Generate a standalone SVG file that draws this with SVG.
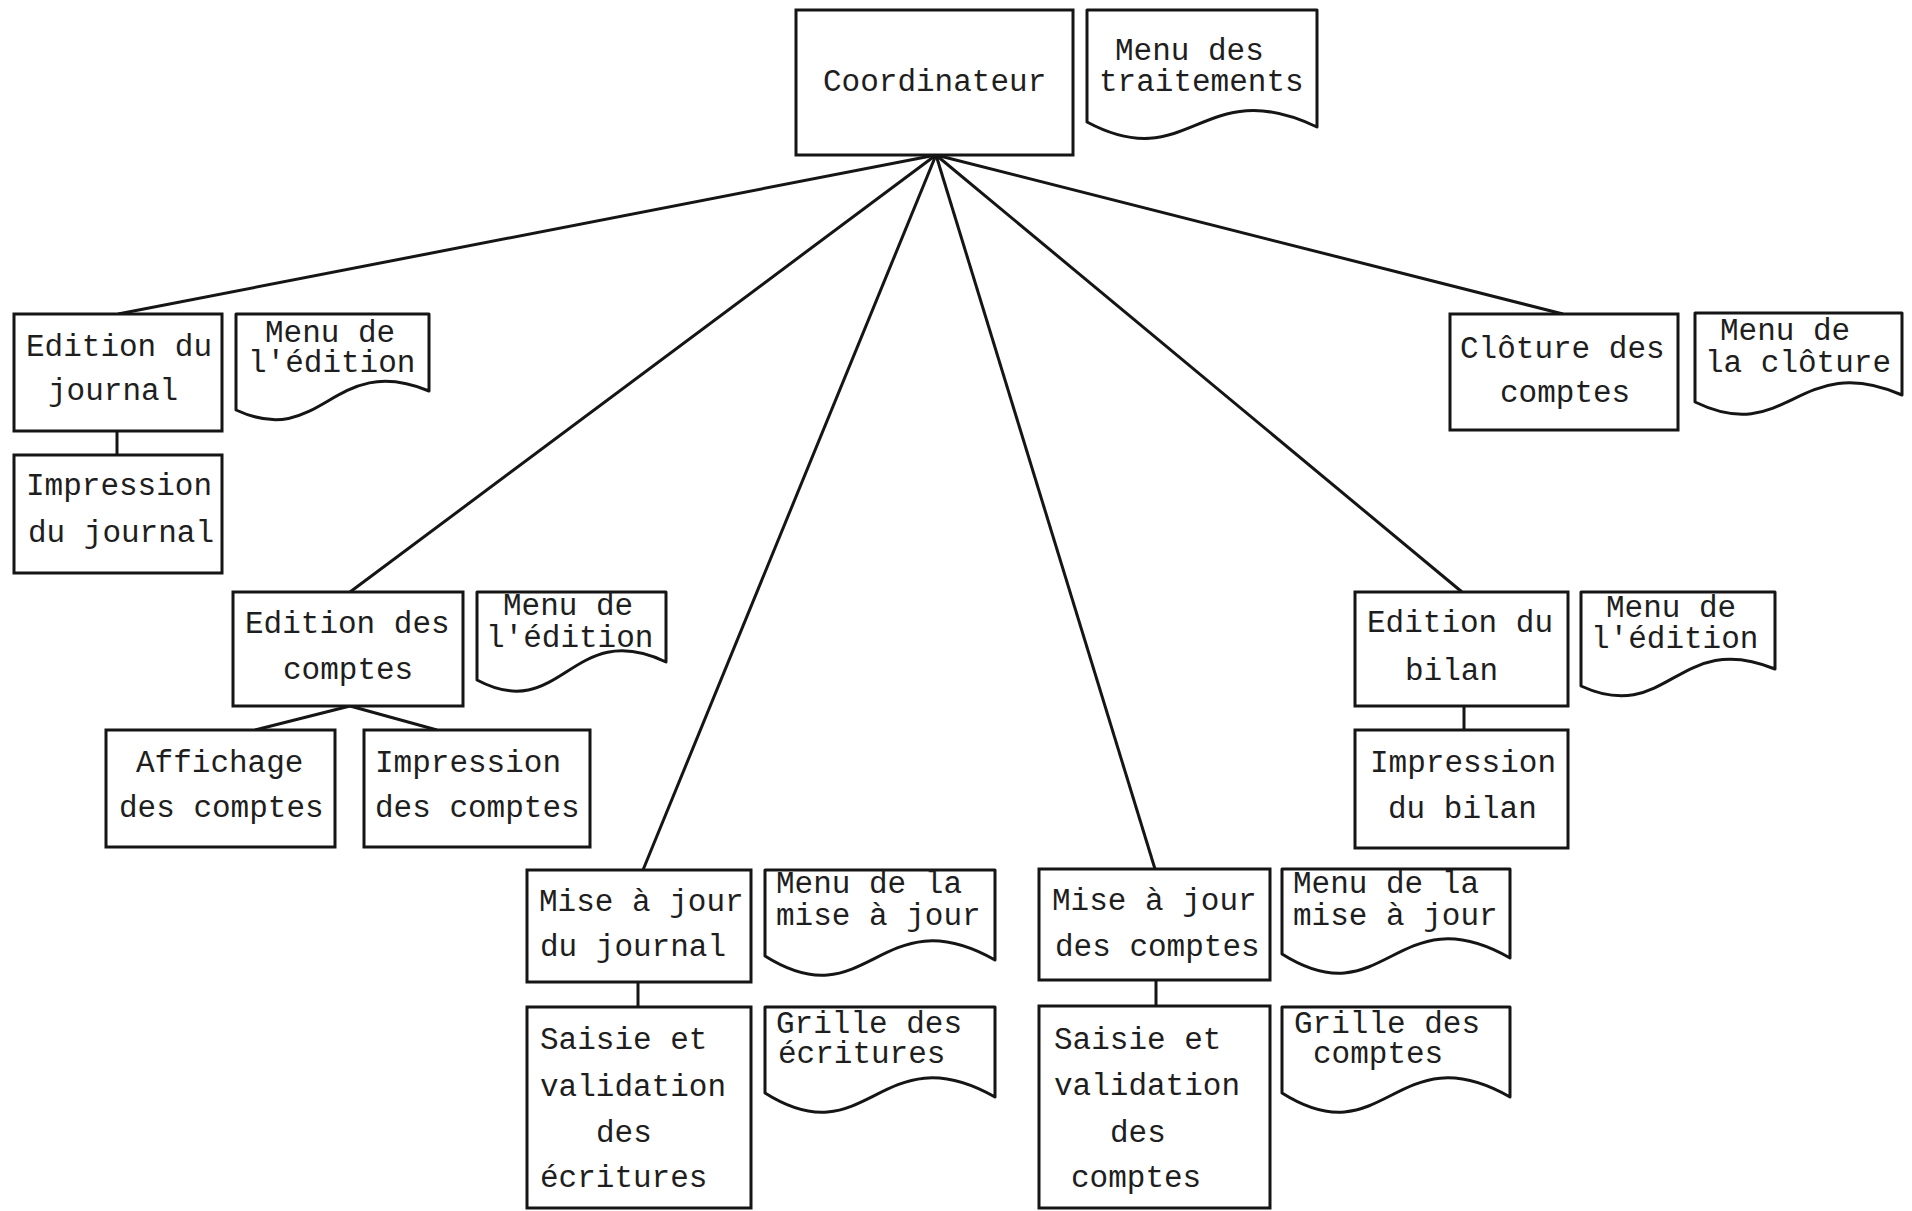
<svg xmlns="http://www.w3.org/2000/svg" width="1912" height="1211" viewBox="0 0 1912 1211">
<style>
.box{fill:#fff;stroke:#151515;stroke-width:3}
.doc{fill:#fff;stroke:#151515;stroke-width:3;stroke-linejoin:round}
.ln{fill:none;stroke:#151515;stroke-width:3}
text{font-family:"Liberation Mono","Courier New",monospace;font-size:31px;fill:#1e1e1e}
</style>
<rect width="1912" height="1211" fill="#fff"/>
<g id="connectors">
<line class="ln" x1="936" y1="155" x2="118" y2="314"/>
<line class="ln" x1="936" y1="155" x2="350" y2="592"/>
<line class="ln" x1="936" y1="155" x2="643" y2="870"/>
<line class="ln" x1="936" y1="155" x2="1155" y2="869"/>
<line class="ln" x1="936" y1="155" x2="1462" y2="592"/>
<line class="ln" x1="936" y1="155" x2="1563" y2="314"/>
<line class="ln" x1="117" y1="431" x2="117" y2="455"/>
<line class="ln" x1="350" y1="706" x2="255" y2="730"/>
<line class="ln" x1="350" y1="706" x2="437" y2="730"/>
<line class="ln" x1="1464" y1="706" x2="1464" y2="730"/>
<line class="ln" x1="638" y1="982" x2="638" y2="1007"/>
<line class="ln" x1="1156" y1="980" x2="1156" y2="1006"/>
</g>
<g id="coordinateur">
<rect class="box" x="796" y="10" width="277" height="145"/>
<text x="823" y="91">Coordinateur</text>
</g>
<g id="menu-traitements">
<path class="doc" d="M1087,10 H1317 V127 C1202,72 1190,177 1087,122 Z"/>
<text x="1115" y="60">Menu des</text>
<text x="1099" y="91">traitements</text>
</g>
<g id="edition-journal">
<rect class="box" x="14" y="314" width="208" height="117"/>
<text x="26" y="356">Edition du</text>
<text x="48" y="400">journal</text>
</g>
<g id="menu-edition-journal">
<path class="doc" d="M236,314 H429 V391 C332,351 323,450 236,410 Z"/>
<text x="265" y="342">Menu de</text>
<text x="248" y="372">l'édition</text>
</g>
<g id="impression-journal">
<rect class="box" x="14" y="455" width="208" height="118"/>
<text x="26" y="495">Impression</text>
<text x="28" y="542">du journal</text>
</g>
<g id="cloture-comptes">
<rect class="box" x="1450" y="314" width="228" height="116"/>
<text x="1460" y="358">Clôture des</text>
<text x="1500" y="402">comptes</text>
</g>
<g id="menu-cloture">
<path class="doc" d="M1695,313 H1902 V395 C1798,350 1788,447 1695,402 Z"/>
<text x="1720" y="340">Menu de</text>
<text x="1705" y="372">la clôture</text>
</g>
<g id="edition-comptes">
<rect class="box" x="233" y="592" width="230" height="114"/>
<text x="245" y="633">Edition des</text>
<text x="283" y="679">comptes</text>
</g>
<g id="menu-edition-comptes">
<path class="doc" d="M477,592 H666 V662 C571,617 562,725 477,680 Z"/>
<text x="503" y="615">Menu de</text>
<text x="486" y="647">l'édition</text>
</g>
<g id="affichage-comptes">
<rect class="box" x="106" y="730" width="229" height="117"/>
<text x="136" y="772">Affichage</text>
<text x="119" y="817">des comptes</text>
</g>
<g id="impression-comptes">
<rect class="box" x="364" y="730" width="226" height="117"/>
<text x="375" y="772">Impression</text>
<text x="375" y="817">des comptes</text>
</g>
<g id="edition-bilan">
<rect class="box" x="1355" y="592" width="213" height="114"/>
<text x="1367" y="632">Edition du</text>
<text x="1405" y="680">bilan</text>
</g>
<g id="menu-edition-bilan">
<path class="doc" d="M1581,592 H1775 V669 C1678,629 1668,726 1581,686 Z"/>
<text x="1606" y="617">Menu de</text>
<text x="1591" y="648">l'édition</text>
</g>
<g id="impression-bilan">
<rect class="box" x="1355" y="730" width="213" height="118"/>
<text x="1370" y="772">Impression</text>
<text x="1388" y="818">du bilan</text>
</g>
<g id="maj-journal">
<rect class="box" x="527" y="870" width="224" height="112"/>
<text x="539" y="911">Mise à jour</text>
<text x="540" y="956">du journal</text>
</g>
<g id="menu-maj-journal">
<path class="doc" d="M765,870 H995 V960 C880,895 868,1021 765,956 Z"/>
<text x="776" y="893">Menu de la</text>
<text x="776" y="925">mise à jour</text>
</g>
<g id="saisie-ecritures">
<rect class="box" x="527" y="1007" width="224" height="201"/>
<text x="540" y="1049">Saisie et</text>
<text x="540" y="1096">validation</text>
<text x="596" y="1142">des</text>
<text x="540" y="1187">écritures</text>
</g>
<g id="grille-ecritures">
<path class="doc" d="M765,1007 H995 V1097 C880,1032 868,1158 765,1093 Z"/>
<text x="776" y="1033">Grille des</text>
<text x="778" y="1063">écritures</text>
</g>
<g id="maj-comptes">
<rect class="box" x="1039" y="869" width="231" height="111"/>
<text x="1052" y="910">Mise à jour</text>
<text x="1055" y="956">des comptes</text>
</g>
<g id="menu-maj-comptes">
<path class="doc" d="M1282,869 H1510 V958 C1396,893 1385,1019 1282,954 Z"/>
<text x="1293" y="893">Menu de la</text>
<text x="1293" y="925">mise à jour</text>
</g>
<g id="saisie-comptes">
<rect class="box" x="1039" y="1006" width="231" height="202"/>
<text x="1054" y="1049">Saisie et</text>
<text x="1054" y="1095">validation</text>
<text x="1110" y="1142">des</text>
<text x="1071" y="1187">comptes</text>
</g>
<g id="grille-comptes">
<path class="doc" d="M1282,1007 H1510 V1097 C1396,1032 1385,1158 1282,1093 Z"/>
<text x="1294" y="1033">Grille des</text>
<text x="1313" y="1063">comptes</text>
</g>
</svg>
